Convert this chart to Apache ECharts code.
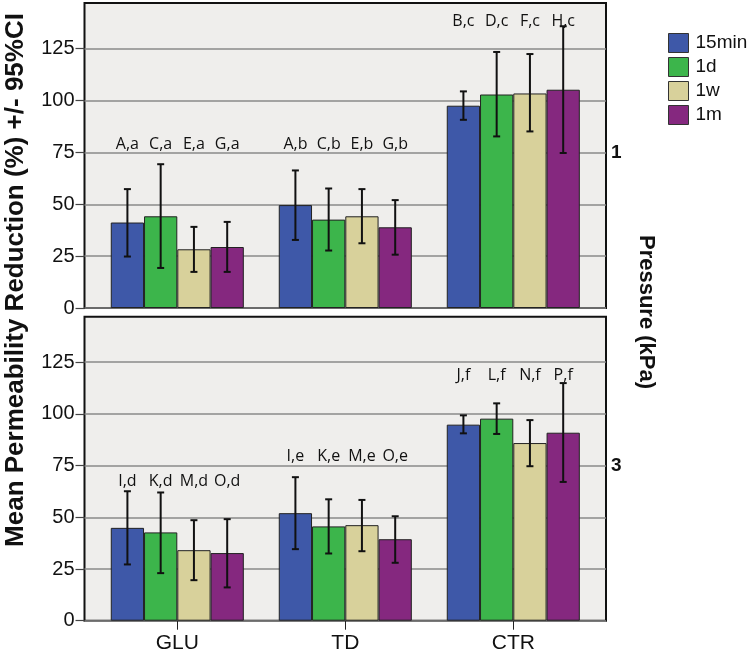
<!DOCTYPE html>
<html>
<head>
<meta charset="utf-8">
<script src="https://cdn.jsdelivr.net/npm/echarts@6/dist/echarts.min.js"></script>
<style>html,body{margin:0;padding:0;background:#fff;}#main{width:750px;height:658px;}</style>
</head>
<body>
<div id="main"></div>
<script>
// ---- data ----
const categories = ['GLU', 'TD', 'CTR'];
const times = ['15min', '1d', '1w', '1m'];
const pressures = ['1', '3'];
const yTicks = [0, 25, 50, 75, 100, 125];

// Pressure 1 kPa (top panel)
const p1Mean15min = [41.2, 49.6, 97.5];
const p1Lo15min   = [24.8, 32.8, 90.7];
const p1Hi15min   = [57.3, 66.3, 104.4];
const p1Mean1d = [44.2, 42.6, 102.9];
const p1Lo1d   = [19.3, 27.7, 82.7];
const p1Hi1d   = [69.3, 57.6, 123.4];
const p1Mean1w = [28.3, 44.2, 103.4];
const p1Lo1w   = [17.4, 31.2, 85.1];
const p1Hi1w   = [39.1, 57.3, 122.4];
const p1Mean1m = [29.4, 38.9, 105.2];
const p1Lo1m   = [17.4, 25.7, 74.7];
const p1Hi1m   = [41.5, 52.0, 135.8];
const p1Letters15min = ['A,a', 'A,b', 'B,c'];
const p1Letters1d    = ['C,a', 'C,b', 'D,c'];
const p1Letters1w    = ['E,a', 'E,b', 'F,c'];
const p1Letters1m    = ['G,a', 'G,b', 'H,c'];
const p1LetterLevel  = [79, 79, 138];

// Pressure 3 kPa (bottom panel)
const p2Mean15min = [44.9, 52.0, 94.8];
const p2Lo15min   = [27.2, 34.6, 90.6];
const p2Hi15min   = [62.6, 69.4, 99.3];
const p2Mean1d = [42.7, 45.6, 97.7];
const p2Lo1d   = [23.0, 32.5, 90.3];
const p2Hi1d   = [62.0, 58.7, 105.1];
const p2Mean1w = [34.1, 46.2, 85.9];
const p2Lo1w   = [19.6, 33.6, 74.7];
const p2Hi1w   = [48.6, 58.4, 97.0];
const p2Mean1m = [32.7, 39.4, 90.9];
const p2Lo1m   = [16.1, 28.0, 67.1];
const p2Hi1m   = [49.1, 50.5, 114.9];
const p2Letters15min = ['I,d', 'I,e', 'J,f'];
const p2Letters1d    = ['K,d', 'K,e', 'L,f'];
const p2Letters1w    = ['M,d', 'M,e', 'N,f'];
const p2Letters1m    = ['O,d', 'O,e', 'P,f'];
const p2LetterLevel  = [67.5, 79.5, 118.5];

// ---- build ----
const colors = ['#3e58a8', '#3cb54b', '#d8d19b', '#85287f'];
const YMAX = 147;
const BARFRAC = 0.198;
const FONT = 'Liberation Sans, Arial, sans-serif';

const panels = [
  { mean: [p1Mean15min, p1Mean1d, p1Mean1w, p1Mean1m],
    lo: [p1Lo15min, p1Lo1d, p1Lo1w, p1Lo1m],
    hi: [p1Hi15min, p1Hi1d, p1Hi1w, p1Hi1m],
    letters: [p1Letters15min, p1Letters1d, p1Letters1w, p1Letters1m],
    level: p1LetterLevel },
  { mean: [p2Mean15min, p2Mean1d, p2Mean1w, p2Mean1m],
    lo: [p2Lo15min, p2Lo1d, p2Lo1w, p2Lo1m],
    hi: [p2Hi15min, p2Hi1d, p2Hi1w, p2Hi1m],
    letters: [p2Letters15min, p2Letters1d, p2Letters1w, p2Letters1m],
    level: p2LetterLevel }
];

const gridTops = [3, 316.7];
const gridHeights = [305, 304];

const grid = [], xAxis = [], yAxis = [], series = [];
panels.forEach((p, pi) => {
  // frame grid
  grid.push({ left: 84.5, top: gridTops[pi], width: 521.5, height: gridHeights[pi],
    show: true, backgroundColor: '#efeeec', borderColor: '#111', borderWidth: 2 });
  // bar grid
  grid.push({ left: 93.3, top: gridTops[pi], width: 504, height: gridHeights[pi], show: false });
  const gF = pi * 2, gB = pi * 2 + 1;
  xAxis.push({ gridIndex: gF, type: 'value', show: false, min: 0, max: 1 });
  xAxis.push({ gridIndex: gB, type: 'category', data: categories,
    axisLine: { show: false },
    axisTick: { show: pi === 1, alignWithLabel: true, length: 9, lineStyle: { color: '#222', width: 1 } },
    axisLabel: { show: pi === 1, fontSize: 21, color: '#111', fontFamily: FONT, margin: 12 } });
  yAxis.push({ gridIndex: gF, type: 'value', min: 0, max: YMAX, interval: 25,
    axisLine: { show: false },
    axisTick: { show: true, length: 9, customValues: yTicks, lineStyle: { color: '#444', width: 1.2 } },
    axisLabel: { fontSize: 20, color: '#111', fontFamily: FONT, margin: 10, customValues: yTicks },
    splitLine: { show: true, lineStyle: { color: '#8a8a8a', width: 1.5 } } });
  const yB = yAxis.length;
  yAxis.push({ gridIndex: gB, type: 'value', min: 0, max: YMAX, show: false });
  yAxis.push({ gridIndex: gF, type: 'value', position: 'right', min: 0, max: YMAX,
    axisLine: { show: false }, axisTick: { show: false }, splitLine: { show: false },
    axisLabel: { customValues: [75], formatter: () => pressures[pi], fontSize: 19, fontWeight: 'bold',
      color: '#111', fontFamily: FONT, margin: 5, padding: [10, 0, 0, 0] } });

  times.forEach((t, ti) => {
    series.push({ type: 'bar', name: t, xAxisIndex: gB, yAxisIndex: yB,
      data: p.mean[ti], barWidth: (BARFRAC * 100) + '%', barGap: '0%',
      itemStyle: { color: colors[ti], borderColor: '#222', borderWidth: 1 } });
  });

  const items = [], texts = [];
  times.forEach((t, ti) => {
    categories.forEach((c, ci) => {
      items.push([ci, ti, p.lo[ti][ci], p.hi[ti][ci], p.level[ci]]);
      texts.push(p.letters[ti][ci]);
    });
  });
  series.push({ type: 'custom', xAxisIndex: gB, yAxisIndex: yB, data: items, z: 5,
    encode: { x: 0, y: [2, 3] },
    renderItem: function (params, api) {
      const ci = api.value(0), ti = api.value(1);
      const band = api.size([1, 0])[0];
      const bw = band * BARFRAC;
      const pLo = api.coord([ci, api.value(2)]);
      const pHi = api.coord([ci, api.value(3)]);
      const pLab = api.coord([ci, api.value(4)]);
      const x = pLo[0] + (ti - 1.5) * bw;
      const cap = 3.5;
      const st = { stroke: '#111', lineWidth: 2 };
      return { type: 'group', children: [
        { type: 'line', shape: { x1: x, y1: pLo[1], x2: x, y2: pHi[1] }, style: st },
        { type: 'line', shape: { x1: x - cap, y1: pLo[1], x2: x + cap, y2: pLo[1] }, style: st },
        { type: 'line', shape: { x1: x - cap, y1: pHi[1], x2: x + cap, y2: pHi[1] }, style: st },
        { type: 'text', x: x, y: pLab[1], style: { text: texts[params.dataIndex], fill: '#111',
          font: '16px "Open Sans", sans-serif', align: 'center', verticalAlign: 'middle' } }
      ] };
    } });
});

const option = {
  animation: false,
  backgroundColor: '#ffffff',
  grid, xAxis, yAxis, series,
  legend: { orient: 'vertical', left: 663, top: 28, data: times, icon: 'rect',
    itemWidth: 20, itemHeight: 19, itemGap: 4,
    itemStyle: { borderColor: '#333', borderWidth: 1 },
    textStyle: { fontSize: 19, color: '#111', fontFamily: FONT, padding: [0, 0, 0, 2] } },
  graphic: [
    { type: 'text', x: 16, y: 280, rotation: Math.PI / 2,
      style: { text: 'Mean Permeability Reduction (%) +/- 95%CI', fill: '#111',
        font: 'bold 26px "Liberation Sans", Arial, sans-serif', align: 'center', verticalAlign: 'middle' } },
    { type: 'text', x: 646, y: 312, rotation: -Math.PI / 2,
      style: { text: 'Pressure (kPa)', fill: '#111',
        font: 'bold 22px "Liberation Sans", Arial, sans-serif', align: 'center', verticalAlign: 'middle' } }
  ]
};

const chart = echarts.init(document.getElementById('main'), null, { renderer: 'canvas' });
chart.setOption(option);
</script>
</body>
</html>
